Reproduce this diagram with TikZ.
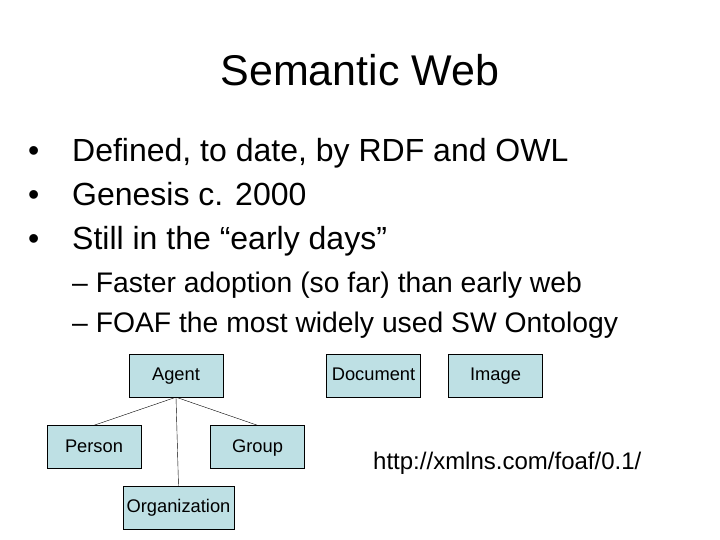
\documentclass[tikz,border=0pt]{standalone}
\usepackage{fontspec}
\setmainfont{Liberation Sans}
\begin{document}
\begin{tikzpicture}[x=1pt,y=-1pt,
  cls/.style={draw=black,fill={rgb,255:red,190;green,224;blue,228},minimum width=94pt,minimum height=43pt,inner sep=0pt,text height=13pt,text depth=3pt,font=\fontsize{18.3}{20}\selectfont},
  txt/.style={anchor=west,inner sep=0pt,text height=23pt,text depth=6pt,font=\fontsize{32}{36}\selectfont},
  sub/.style={anchor=west,inner sep=0pt,text height=20pt,text depth=5pt,font=\fontsize{28.3}{32}\selectfont}]
\useasboundingbox (0,0) rectangle (720,540);
\node[font=\fontsize{43}{50}\selectfont] (title) at (360,70) {Semantic Web};
\node[txt] (d1) at (28,153) {•};
\node[txt] (b1) at (72,153) {Defined, to date, by RDF and OWL};
\node[txt] (d2) at (28,197) {•};
\node[txt] (b2) at (72,197) {Genesis c. 2000};
\node[txt] (d3) at (28,241) {•};
\node[txt] (b3) at (72,241) {Still in the “early days”};
\node[sub] (s1) at (72,285) {– Faster adoption (so far) than early web};
\node[sub] (s2) at (72,325) {– FOAF the most widely used SW Ontology};
\node[cls] (agent) at (176,375.5) {Agent};
\node[cls] (doc) at (373.5,375.5) {Document};
\node[cls] (img) at (495.5,375.5) {Image};
\node[cls] (person) at (94,447) {Person};
\node[cls] (group) at (257.5,447) {Group};
\node[cls,minimum width=111pt] (org) at (178.5,507.5) {Organization};
\node[anchor=west,inner sep=0pt,font=\fontsize{24}{28}\selectfont] (url) at (373,463) {http://xmlns.com/foaf/0.1/};
\draw (agent.south) -- (person.north);
\draw (agent.south) -- (group.north);
\draw (agent.south) -- (org.north);
\end{tikzpicture}
\end{document}
